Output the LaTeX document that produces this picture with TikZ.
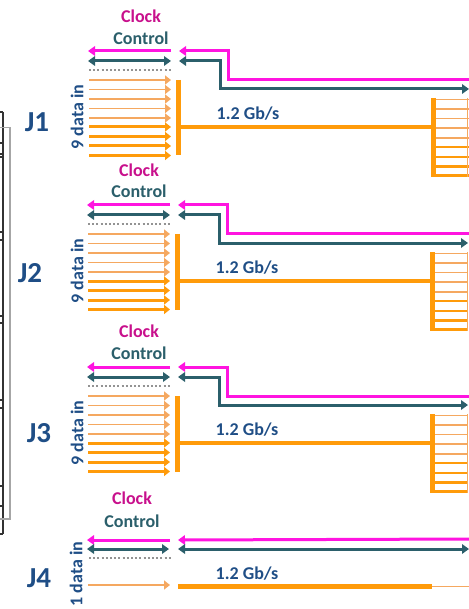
\documentclass[tikz,border=0pt]{standalone}
\usepackage{fontspec}
\setmainfont{Carlito}
\usetikzlibrary{arrows.meta}
\definecolor{clockc}{HTML}{FF14E0}
\definecolor{clockt}{HTML}{C8108C}
\definecolor{ctrl}{HTML}{2B5F6B}
\definecolor{navy}{HTML}{1F4E86}
\definecolor{orng}{HTML}{FF9B0A}
\definecolor{lorng}{HTML}{F5A860}
\tikzset{
 lab/.style={font=\bfseries\fontsize{18}{18}\selectfont,inner sep=0pt},
 jlab/.style={font=\bfseries\fontsize{29}{29}\selectfont,text=navy,inner sep=0pt},
 clk/.style={draw=clockc,line width=3pt,-{Triangle[length=7pt,width=9.5pt]}},
 ctl/.style={draw=ctrl,line width=3pt,{Triangle[length=7pt,width=9.5pt]}-{Triangle[length=7pt,width=9.5pt]}},
 dots/.style={draw=gray!85,line width=2pt,dash pattern=on 2pt off 2.2pt},
 thin data/.style={draw=lorng,line width=1.5pt,-{Triangle[length=6pt,width=9pt]}},
 thick data/.style={draw=orng,line width=3pt,-{Triangle[length=6pt,width=9pt]}},
 thin rung/.style={draw=lorng,line width=1.7pt},
 thick rung/.style={draw=orng,line width=2.8pt},
 bar/.style={draw=orng,line width=5pt},
 frame/.style={draw=black!80,line width=1.1pt},
 grayframe/.style={draw=gray!70,line width=1.3pt},
}
\begin{document}
\begin{tikzpicture}[x=1pt,y=-1pt]
\useasboundingbox (0,0) rectangle (468,609);
% left board
\coordinate (bt) at (3,112); \coordinate (bb) at (3,534);
\draw[frame] (bt) -- (bb);
\draw[grayframe] (-2,127.5) -- (10,127.5) -- (10,519) -- (-2,519);
\foreach \yy in {112,143,154,157,232,240,316,323,400,408,486,506,534}{
 \draw[frame] (-2,\yy) -- (3,\yy);
}
% three 9-line blocks
\foreach \n/\dx/\dy in {1/0/0, 2/-1/154, 3/-1/316}{
\begin{scope}[shift={(\dx,\dy)}]
 \coordinate (ml\n) at (171,51); \coordinate (mr\n) at (88,51);
 \coordinate (cl\n) at (171,61); \coordinate (cr\n) at (88,61);
 \coordinate (d1\n) at (89,70); \coordinate (d2\n) at (172,70);
 \coordinate (ma\n) at (179,51); \coordinate (mb\n) at (228,51); \coordinate (mc\n) at (228,80); \coordinate (md\n) at (471,80);
 \coordinate (ca\n) at (179,61); \coordinate (cb\n) at (220,61); \coordinate (cc\n) at (220,89); \coordinate (cd\n) at (469,89);
 \coordinate (bta\n) at (178,80); \coordinate (btb\n) at (178,155.5);
 \coordinate (hs\n) at (178,127); \coordinate (he\n) at (433,127);
 \coordinate (rta\n) at (433,98); \coordinate (rtb\n) at (433,177);
 \draw[clk] (ml\n) -- (mr\n);
 \draw[ctl] (cl\n) -- (cr\n);
 \draw[dots] (d1\n) -- (d2\n);
 \draw[draw=clockc,line width=3pt,{Triangle[length=7pt,width=9.5pt]}-] (ma\n) -- (mb\n) -- (mc\n) -- (md\n);
 \draw[ctl] (cd\n) -- (cc\n) -- (cb\n) -- (ca\n);
 \foreach \yy in {80,89.5,99,108.5,118}{
  \coordinate (ds) at (89,\yy); \coordinate (de) at (171,\yy);
  \draw[thin data] (ds) -- (de);
 }
 \foreach \yy in {127,136.5,146,155.5}{
  \coordinate (ds) at (89,\yy); \coordinate (de) at (171,\yy);
  \draw[thick data] (ds) -- (de);
 }
 \draw[bar] (bta\n) -- (btb\n);
 \draw[orng,line width=4.6pt] (hs\n) -- (he\n);
 \foreach \yy in {99.5,109,118.5,128,138}{
  \coordinate (ra) at (433,\yy); \coordinate (rb) at (469,\yy);
  \draw[thin rung] (ra) -- (rb);
 }
 \foreach \yy in {147,157,166.5,175.5}{
  \coordinate (ra) at (433,\yy); \coordinate (rb) at (469,\yy);
  \draw[thick rung] (ra) -- (rb);
 }
 \draw[bar] (rta\n) -- (rtb\n);
\end{scope}
}
\draw[draw=lorng,line width=1.4pt] (467.5,98) -- (467.5,177);
\draw[draw=lorng,line width=1.4pt] (467.5,252) -- (467.5,331);
\draw[draw=lorng,line width=1.4pt] (467.5,414) -- (467.5,493);
% block 4
\coordinate (ml4) at (170,540); \coordinate (mr4) at (87,540);
\coordinate (cl4) at (169,549); \coordinate (cr4) at (87,549);
\coordinate (d14) at (89,558); \coordinate (d24) at (171,558);
\coordinate (ma4) at (178,540); \coordinate (md4) at (471,539);
\coordinate (ca4) at (178,549); \coordinate (cd4) at (469,549);
\coordinate (ds4) at (88,585); \coordinate (de4) at (170,585);
\coordinate (hs4) at (178,586.5); \coordinate (he4) at (432,586.5);
\coordinate (te4) at (470,586.5);
\draw[clk] (ml4) -- (mr4);
\draw[ctl] (cl4) -- (cr4);
\draw[dots] (d14) -- (d24);
\draw[clk] (md4) -- (ma4);
\draw[ctl] (ca4) -- (cd4);
\draw[thin data] (ds4) -- (de4);
\draw[orng,line width=5pt] (hs4) -- (he4);
\draw[thin rung] (he4) -- (te4);
% labels
\node[lab,text=clockt] (clock1) at (141,16) {Clock};
\node[lab,text=ctrl] (control1) at (141,38) {Control};
\node[lab,text=clockt] (clock2) at (139,170) {Clock};
\node[lab,text=ctrl] (control2) at (139,191) {Control};
\node[lab,text=clockt] (clock3) at (139,331) {Clock};
\node[lab,text=ctrl] (control3) at (139,353) {Control};
\node[lab,text=clockt] (clock4) at (132,498) {Clock};
\node[lab,text=ctrl] (control4) at (132,521) {Control};
\node[lab,text=navy] (rate1) at (248,114) {1.2 Gb/s};
\node[lab,text=navy] (rate2) at (247,268) {1.2 Gb/s};
\node[lab,text=navy] (rate3) at (247,430) {1.2 Gb/s};
\node[lab,text=navy] (rate4) at (247,574) {1.2 Gb/s};
\node[lab,text=navy,rotate=90] (in1) at (77,117) {9 data in};
\node[lab,text=navy,rotate=90] (in2) at (77,271) {9 data in};
\node[lab,text=navy,rotate=90] (in3) at (77,433) {9 data in};
\node[lab,text=navy,rotate=90] (in4) at (76,574) {1 data in};
\node[jlab] (j1) at (37,122) {J1};
\node[jlab] (j2) at (30,273) {J2};
\node[jlab] (j3) at (39,433) {J3};
\node[jlab] (j4) at (39,578) {J4};
\end{tikzpicture}
\end{document}
